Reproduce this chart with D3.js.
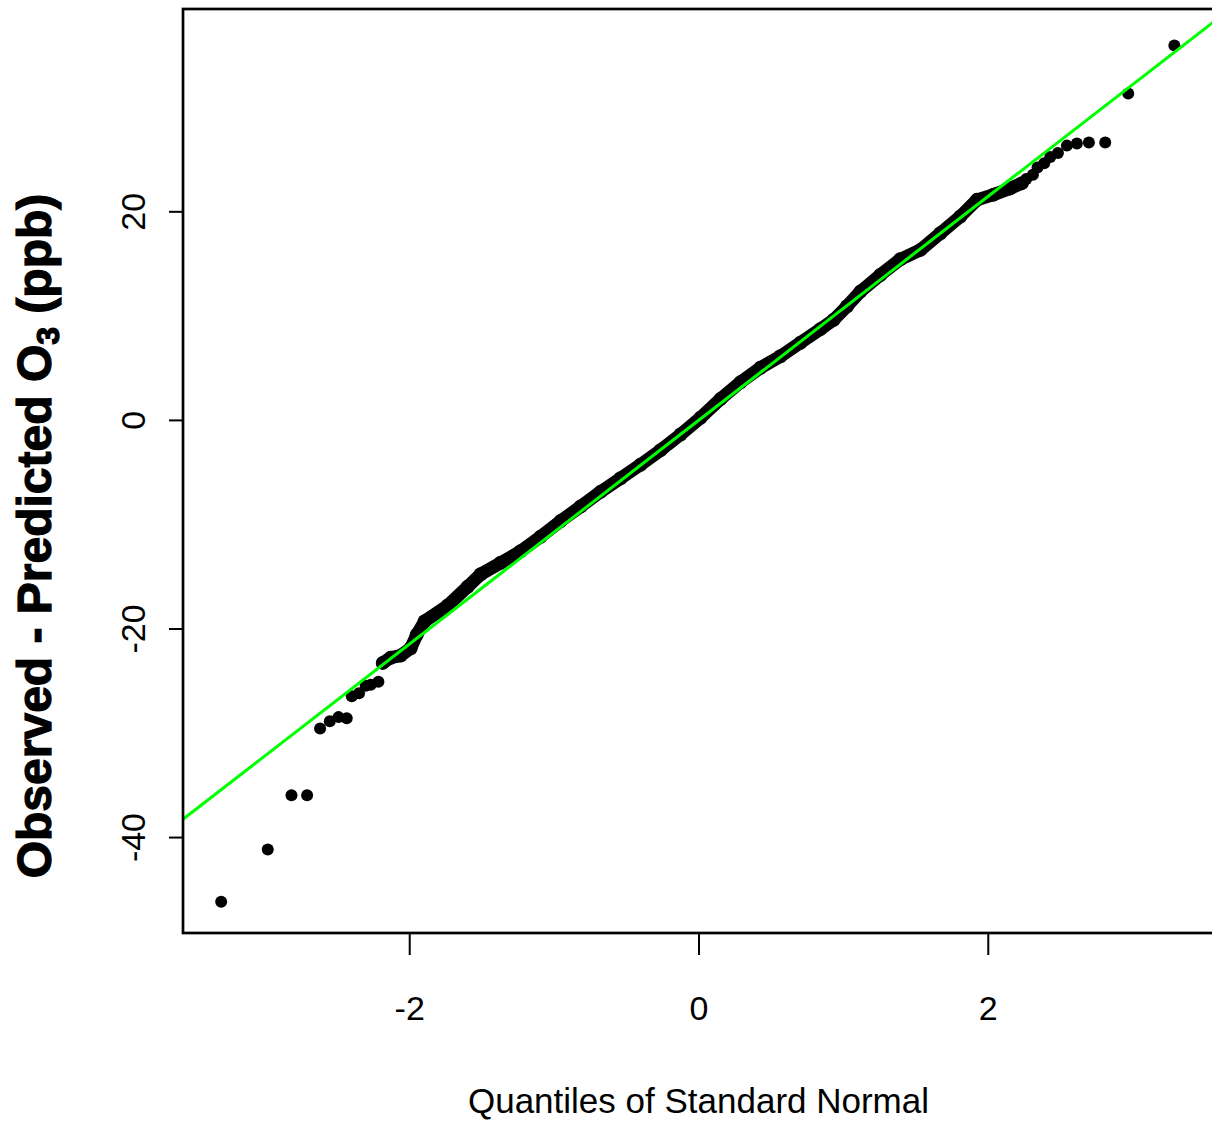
<!DOCTYPE html>
<html>
<head>
<meta charset="utf-8">
<script src="https://cdn.jsdelivr.net/npm/d3@7/dist/d3.min.js"></script>
<style>
    body { margin: 0; background: #fff; }
    svg { display: block; font-family: 'Liberation Sans', Arial, sans-serif; }
</style>
</head>
<body>
<div id="chart"></div>
<script>
'use strict';

// Single dots in the two tails (theoretical quantile, observed - predicted)
const tailQ = [-3.300, -2.978, -2.814, -2.706, -2.616, -2.549, -2.489, -2.432, -2.397, -2.347, -2.301, -2.266, -2.213,
    2.266, 2.312, 2.344, 2.390, 2.432, 2.485, 2.547, 2.616, 2.699, 2.812, 2.971, 3.290];
const tailObs = [-46.2, -41.2, -36.0, -36.0, -29.6, -28.9, -28.5, -28.6, -26.5, -26.2, -25.5, -25.4, -25.1,
    23.1, 23.5, 24.2, 24.6, 25.2, 25.6, 26.3, 26.5, 26.6, 26.6, 31.3, 35.9];

// Middle of the sample, where the dots run together into one band
const bandQ = [-2.183, -2.128, -2.059, -1.990, -1.948, -1.893, -1.734, -1.596, -1.506, -1.368, -1.230, -1.092,
    -0.953, -0.815, -0.677, -0.539, -0.401, -0.262, -0.124, 0.014, 0.152, 0.290, 0.428, 0.566, 0.705, 0.843,
    0.935, 1.027, 1.119, 1.257, 1.395, 1.534, 1.672, 1.810, 1.925, 2.040, 2.155, 2.236];
const bandObs = [-23.3, -22.8, -22.6, -21.9, -20.6, -19.3, -17.8, -16.0, -14.8, -13.7, -12.6, -11.2,
    -9.7, -8.3, -6.9, -5.6, -4.3, -2.9, -1.4, 0.2, 2.0, 3.6, 5.0, 6.1, 7.4, 8.7,
    9.6, 10.9, 12.3, 13.9, 15.4, 16.3, 17.9, 19.5, 21.1, 21.6, 22.2, 22.7];

// qqline through the quartiles
const lineIntercept = -0.05;
const lineSlope = 10.73;

// Axes
const xTicks = [-2, 0, 2];
const yTicks = [-40, -20, 0, 20];
const xLimits = [-3.564, 3.564];
const yLimits = [-49.2, 39.4];
const xTitle = 'Quantiles of Standard Normal';

/*
QQ plot
 */
class QQPlot {

    svg = null;

    // Configs
    svgW = 1212;
    svgH = 1121;
    box = {left: 183, right: 1214, top: 9, bottom: 933};
    dotR = 6;

    constructor(_target) {
        this.target = _target;
        this.init();
    }

    init() {
        const vis = this;

        vis.svg = d3.select(`#${vis.target}`)
            .append('svg')
            .attr('width', vis.svgW)
            .attr('height', vis.svgH);

        vis.xScale = d3.scaleLinear()
            .domain(xLimits)
            .range([vis.box.left, vis.box.right]);
        vis.yScale = d3.scaleLinear()
            .domain(yLimits)
            .range([vis.box.bottom, vis.box.top]);

        vis.svg.append('clipPath')
            .attr('id', 'plotClip')
            .append('rect')
            .attr('x', vis.box.left)
            .attr('y', vis.box.top)
            .attr('width', vis.box.right - vis.box.left)
            .attr('height', vis.box.bottom - vis.box.top);

        vis.wrangle();
    }

    wrangle() {
        const vis = this;
        vis.tailData = tailQ.map((q, i) => ({q: q, v: tailObs[i]}));
        vis.bandData = bandQ.map((q, i) => ({q: q, v: bandObs[i]}));
        vis.render();
    }

    render() {
        const vis = this;
        const fmt = d => String(d);

        // Dots
        const pointsG = vis.svg.append('g').attr('clip-path', 'url(#plotClip)');
        pointsG.append('path')
            .datum(vis.bandData)
            .attr('fill', 'none')
            .attr('stroke', '#000')
            .attr('stroke-width', 13)
            .attr('stroke-linecap', 'round')
            .attr('stroke-linejoin', 'round')
            .attr('d', d3.line().x(d => vis.xScale(d.q)).y(d => vis.yScale(d.v)));
        pointsG.selectAll('circle.band')
            .data(vis.bandData)
            .join('circle')
            .attr('class', 'band')
            .attr('cx', d => vis.xScale(d.q))
            .attr('cy', d => vis.yScale(d.v))
            .attr('r', 7)
            .attr('fill', '#000');
        pointsG.selectAll('circle.tail')
            .data(vis.tailData)
            .join('circle')
            .attr('class', 'tail')
            .attr('cx', d => vis.xScale(d.q))
            .attr('cy', d => vis.yScale(d.v))
            .attr('r', vis.dotR)
            .attr('fill', '#000');

        // qqline
        pointsG.append('line')
            .attr('x1', vis.xScale(xLimits[0]))
            .attr('y1', vis.yScale(lineIntercept + lineSlope * xLimits[0]))
            .attr('x2', vis.xScale(xLimits[1]))
            .attr('y2', vis.yScale(lineIntercept + lineSlope * xLimits[1]))
            .attr('stroke', '#00ff00')
            .attr('stroke-width', 3);

        // Box
        vis.svg.append('rect')
            .attr('x', vis.box.left)
            .attr('y', vis.box.top)
            .attr('width', vis.box.right - vis.box.left)
            .attr('height', vis.box.bottom - vis.box.top)
            .attr('fill', 'none')
            .attr('stroke', '#000')
            .attr('stroke-width', 2.7);

        // X axis
        vis.svg.append('g')
            .attr('transform', `translate(0, ${vis.box.bottom})`)
            .call(d3.axisBottom(vis.xScale).tickValues(xTicks).tickSize(22).tickFormat(fmt))
            .call(g => g.select('.domain').remove())
            .call(g => g.selectAll('line').attr('stroke', '#000').attr('stroke-width', 2))
            .call(g => g.selectAll('text')
                .attr('y', 87)
                .attr('dy', null)
                .attr('fill', '#000')
                .style('font-size', '34px')
                .style('font-family', "'Liberation Sans', Arial, sans-serif"));

        // Y axis
        vis.svg.append('g')
            .attr('transform', `translate(${vis.box.left}, 0)`)
            .call(d3.axisLeft(vis.yScale).tickValues(yTicks).tickSize(14).tickFormat(fmt))
            .call(g => g.select('.domain').remove())
            .call(g => g.selectAll('line').attr('stroke', '#000').attr('stroke-width', 2))
            .call(g => g.selectAll('text')
                .attr('x', 0)
                .attr('dy', null)
                .attr('text-anchor', 'middle')
                .attr('transform', 'translate(-38, 0) rotate(-90)')
                .attr('fill', '#000')
                .style('font-size', '34px')
                .style('font-family', "'Liberation Sans', Arial, sans-serif"));

        // Titles
        vis.svg.append('text')
            .attr('x', vis.xScale(0))
            .attr('y', 1113)
            .attr('text-anchor', 'middle')
            .style('font-size', '35px')
            .text(xTitle);

        const yTitle = vis.svg.append('text')
            .attr('transform', 'translate(51, 536) rotate(-90)')
            .attr('text-anchor', 'middle')
            .style('font-size', '48px')
            .style('font-weight', 900)
            .style('stroke', '#000')
            .style('stroke-width', 1.2);
        yTitle.append('tspan').text('Observed - Predicted O');
        yTitle.append('tspan').attr('dy', 8).style('font-size', '32px').text('3');
        yTitle.append('tspan').attr('dy', -8).text(' (ppb)');
    }
}

new QQPlot('chart');
</script>
</body>
</html>
